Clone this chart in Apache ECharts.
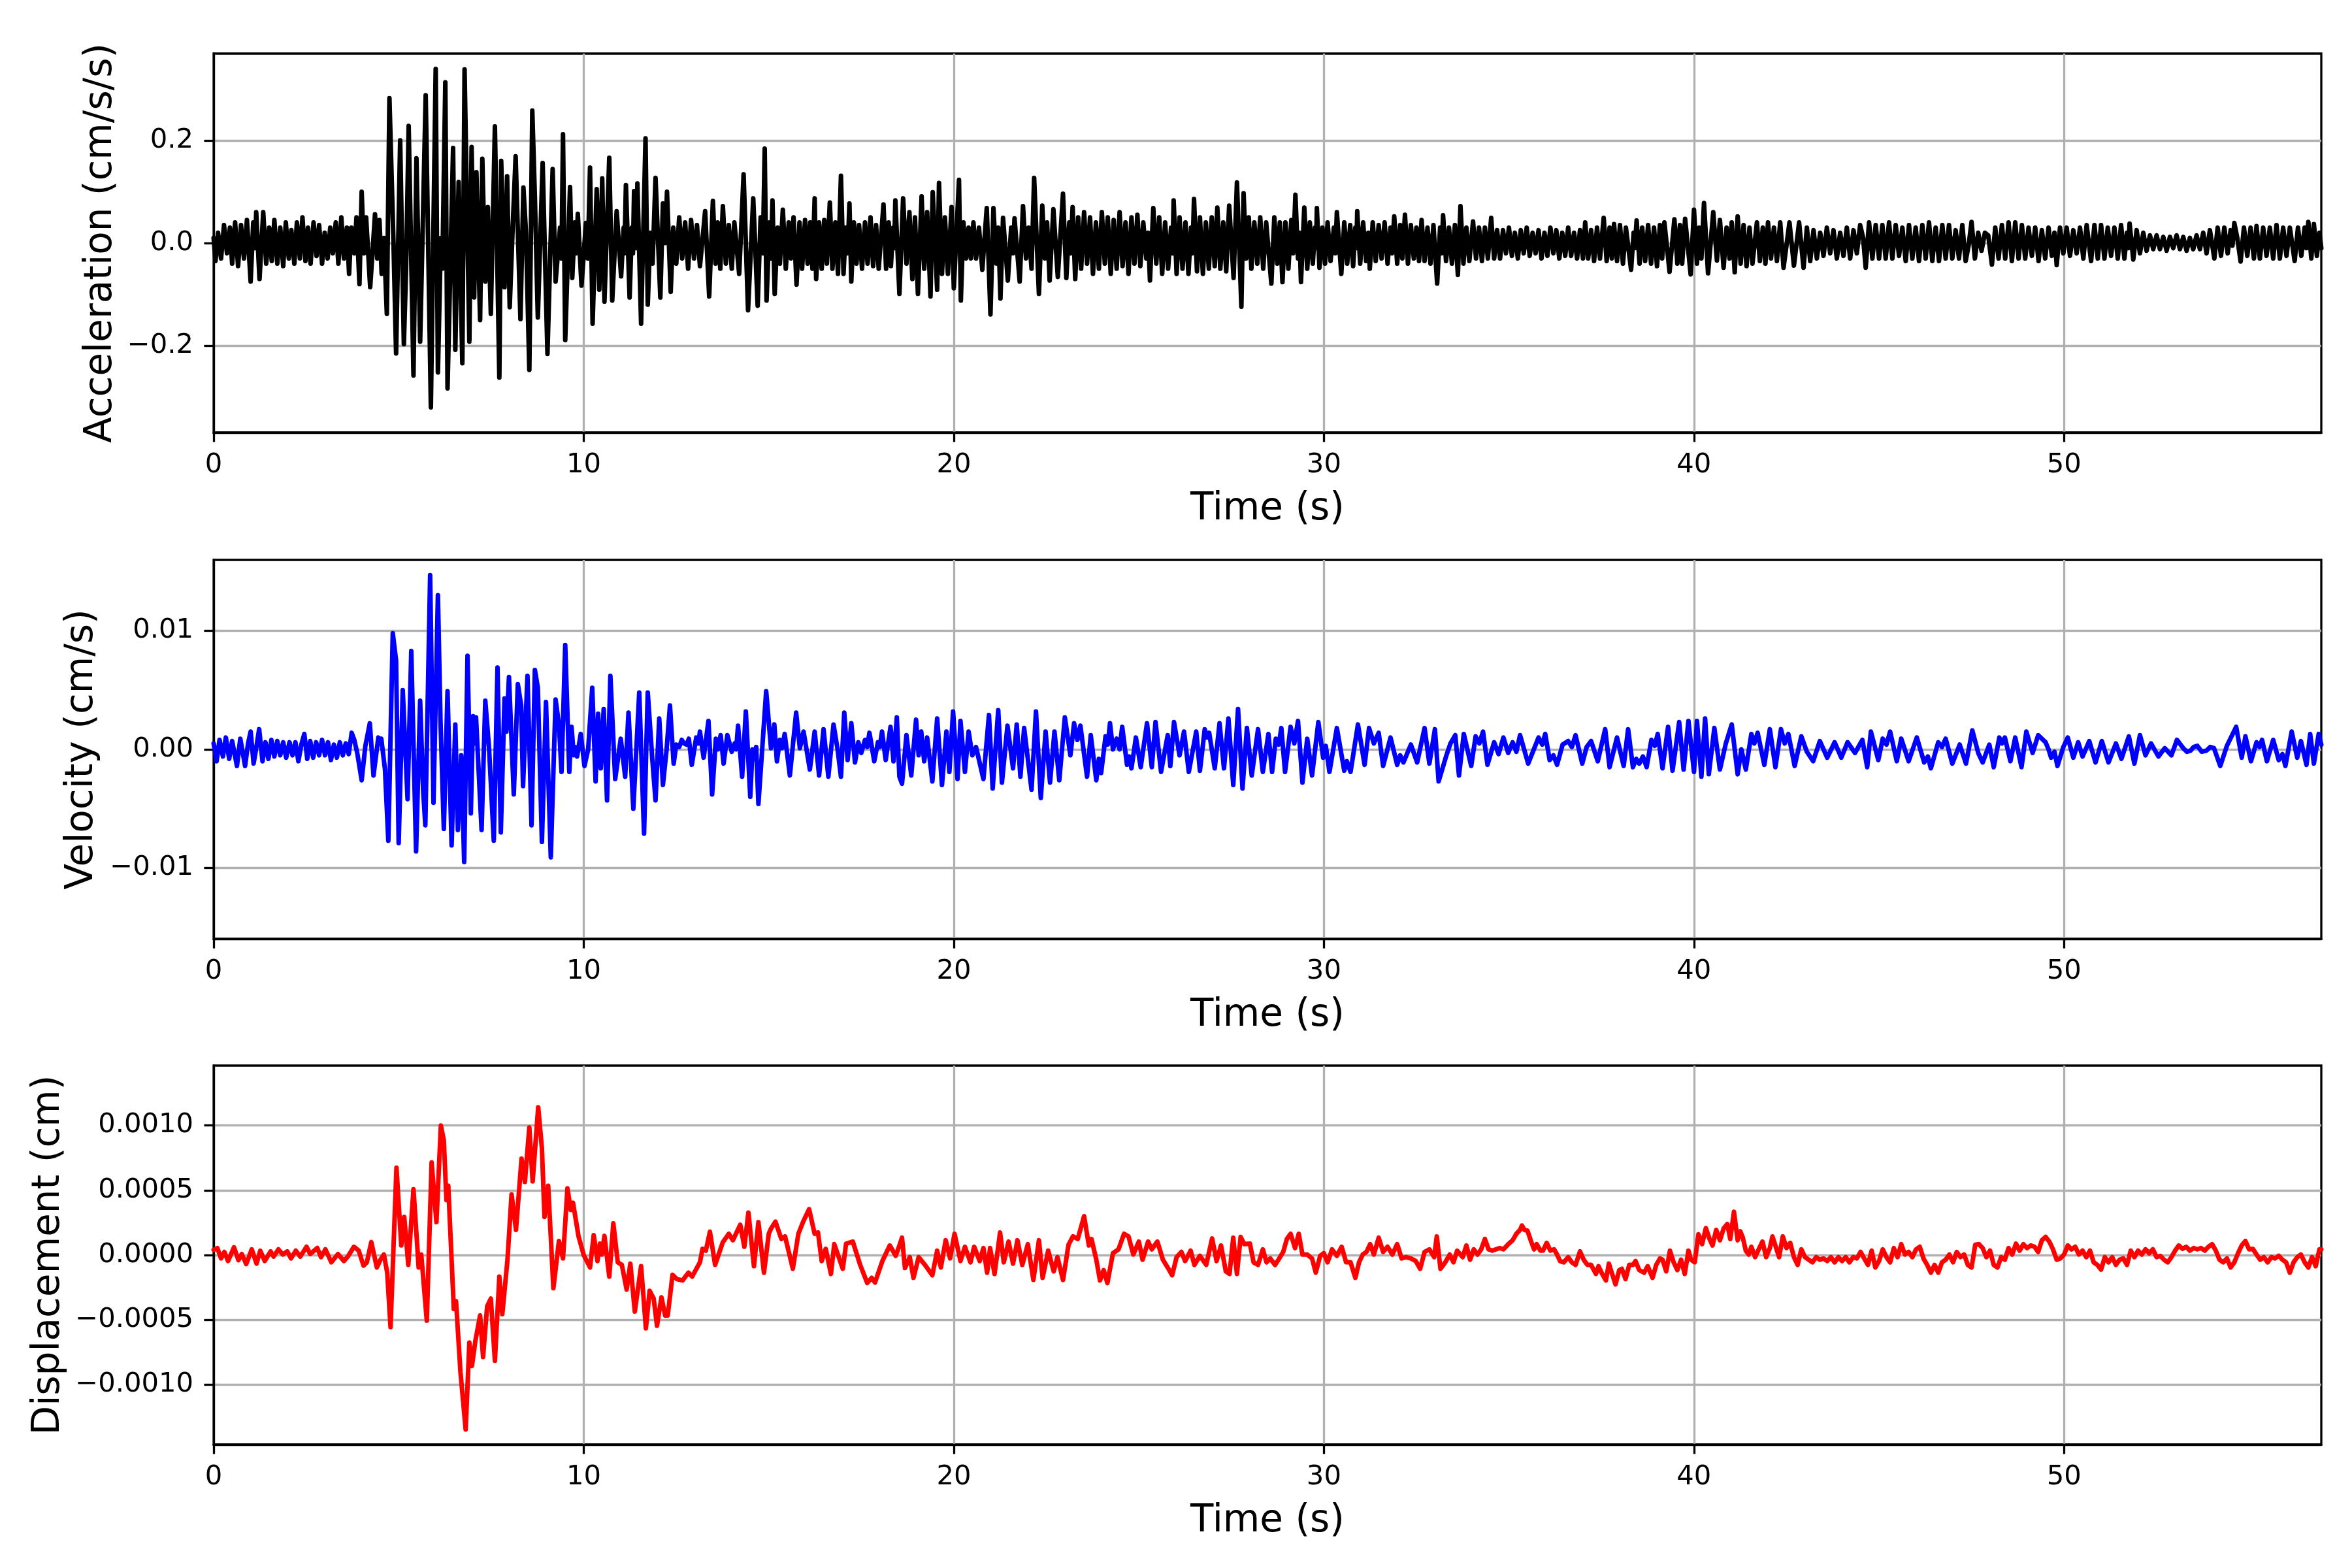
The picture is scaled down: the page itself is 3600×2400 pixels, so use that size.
<!DOCTYPE html>
<html><head><meta charset="utf-8">
<script src="https://cdn.jsdelivr.net/npm/echarts@6/dist/echarts.min.js"></script>
<style>html,body{margin:0;padding:0;background:#fff}#c{width:3600px;height:2400px}</style>
</head><body><div id="c"></div>
<script>
// ---- tick values ----
const timeTicks = [0, 10, 20, 30, 40, 50];
const accTicks = [-0.2, 0, 0.2];
const velTicks = [-0.01, 0, 0.01];
const dispTicks = [-0.001, -0.0005, 0, 0.0005, 0.001];

// ---- acceleration (cm/s/s): [time s, value] ----
const accData = [
[0.00,0.010],[0.05,-0.035],[0.12,0.020],[0.20,-0.030],[0.28,0.035],[0.36,-0.020],[0.44,0.030],[0.50,-0.040],[0.58,0.040],[0.66,-0.045],[0.74,0.035],[0.82,-0.030],[0.90,0.045],[1.00,-0.075],[1.07,0.040],[1.12,-0.010],[1.15,0.060],[1.24,-0.070],[1.34,0.060],[1.42,-0.040],[1.50,0.030],[1.57,-0.035],[1.64,0.045],[1.72,-0.040],[1.80,0.030],[1.88,-0.045],[1.95,0.040],[2.03,-0.030],[2.10,0.025],[2.18,-0.040],[2.25,0.040],[2.33,-0.030],[2.40,0.050],[2.48,-0.035],[2.55,0.030],[2.62,-0.040],[2.70,0.040],[2.78,-0.025],[2.85,0.035],[2.93,-0.040],[3.00,0.020],[3.08,-0.030],[3.15,0.030],[3.22,-0.020],[3.30,0.040],[3.37,-0.040],[3.45,0.050],[3.52,-0.030],[3.60,0.030],[3.66,-0.060],[3.72,0.030],[3.80,-0.020],[3.86,0.050],[3.94,-0.080],[4.00,0.100],[4.06,-0.020],[4.12,0.050],[4.23,-0.086],[4.30,-0.010],[4.36,0.056],[4.42,-0.030],[4.48,0.045],[4.54,-0.060],[4.60,0.010],[4.68,-0.138],[4.75,0.282],[4.86,0.000],[4.93,-0.215],[5.04,0.200],[5.14,-0.197],[5.20,-0.050],[5.27,0.228],[5.40,-0.258],[5.48,0.165],[5.58,-0.192],[5.73,0.288],[5.87,-0.320],[6.00,0.339],[6.06,-0.252],[6.14,0.010],[6.18,-0.050],[6.26,0.313],[6.32,-0.283],[6.47,0.185],[6.53,-0.208],[6.62,0.119],[6.72,-0.234],[6.78,0.338],[6.91,-0.192],[6.97,0.187],[7.04,-0.106],[7.10,0.138],[7.20,-0.150],[7.26,0.164],[7.34,-0.075],[7.41,0.070],[7.49,-0.138],[7.60,0.227],[7.72,-0.262],[7.77,0.160],[7.86,-0.086],[7.93,0.130],[8.00,-0.125],[8.08,0.030],[8.16,0.169],[8.29,-0.148],[8.37,0.108],[8.44,0.020],[8.53,-0.247],[8.61,0.258],[8.68,0.090],[8.76,-0.145],[8.89,0.156],[9.02,-0.216],[9.16,0.144],[9.24,-0.075],[9.36,0.030],[9.40,-0.030],[9.44,0.212],[9.50,-0.189],[9.63,0.109],[9.69,-0.068],[9.76,0.040],[9.80,-0.020],[9.84,0.057],[9.94,-0.083],[10.06,0.039],[10.11,-0.030],[10.17,0.147],[10.24,-0.157],[10.35,0.105],[10.42,-0.091],[10.50,0.126],[10.56,-0.114],[10.69,0.166],[10.77,-0.112],[10.89,0.062],[11.01,-0.065],[11.08,0.030],[11.10,-0.020],[11.14,0.113],[11.24,-0.106],[11.30,0.030],[11.33,-0.020],[11.36,0.101],[11.41,-0.010],[11.45,0.116],[11.55,-0.157],[11.67,0.204],[11.73,-0.120],[11.80,0.020],[11.86,-0.040],[11.94,0.127],[12.07,-0.106],[12.14,0.077],[12.20,0.000],[12.25,0.100],[12.35,-0.095],[12.42,0.030],[12.50,-0.040],[12.58,0.050],[12.66,-0.030],[12.74,0.040],[12.82,-0.050],[12.90,0.045],[12.98,-0.030],[13.06,0.035],[13.14,-0.045],[13.20,0.000],[13.28,0.062],[13.39,-0.104],[13.49,0.082],[13.56,-0.040],[13.62,0.040],[13.69,-0.050],[13.76,0.072],[13.84,-0.040],[13.92,0.035],[14.00,-0.050],[14.07,0.040],[14.20,-0.060],[14.32,0.134],[14.44,-0.131],[14.58,0.087],[14.70,-0.122],[14.78,0.050],[14.84,-0.020],[14.89,0.184],[14.94,-0.112],[15.02,0.040],[15.06,-0.030],[15.10,0.083],[15.16,-0.099],[15.24,0.030],[15.30,-0.040],[15.38,0.065],[15.46,-0.050],[15.54,0.040],[15.60,-0.030],[15.67,0.050],[15.75,-0.081],[15.83,0.040],[15.90,-0.050],[15.98,0.045],[16.05,-0.040],[16.12,0.040],[16.18,-0.050],[16.24,0.087],[16.28,-0.070],[16.36,0.040],[16.43,-0.050],[16.50,0.045],[16.57,-0.040],[16.65,0.079],[16.72,-0.050],[16.80,0.040],[16.87,-0.060],[16.95,0.131],[17.02,-0.060],[17.08,0.030],[17.13,-0.020],[17.18,0.077],[17.23,-0.075],[17.30,0.040],[17.37,-0.040],[17.44,0.035],[17.52,-0.050],[17.60,0.040],[17.67,-0.040],[17.75,0.050],[17.82,-0.045],[17.90,0.035],[17.97,-0.050],[18.10,0.075],[18.17,-0.050],[18.24,0.040],[18.30,-0.045],[18.36,0.030],[18.39,-0.010],[18.42,0.083],[18.53,-0.099],[18.63,0.087],[18.72,-0.040],[18.80,0.060],[18.88,-0.070],[18.95,0.050],[19.03,-0.099],[19.13,0.091],[19.20,-0.050],[19.28,0.060],[19.37,-0.104],[19.43,0.099],[19.55,-0.091],[19.60,0.117],[19.68,-0.060],[19.76,0.050],[19.84,-0.060],[19.94,0.070],[20.00,-0.088],[20.14,0.123],[20.19,-0.112],[20.26,0.040],[20.33,-0.030],[20.40,0.030],[20.46,-0.030],[20.53,0.040],[20.60,-0.030],[20.68,0.030],[20.77,-0.052],[20.89,0.068],[20.99,-0.139],[21.07,0.068],[21.15,-0.040],[21.20,0.030],[21.26,-0.108],[21.33,0.049],[21.46,-0.073],[21.55,0.030],[21.60,-0.020],[21.64,0.048],[21.78,-0.075],[21.87,0.072],[21.95,-0.030],[22.02,0.030],[22.10,-0.050],[22.17,0.127],[22.30,-0.099],[22.39,0.073],[22.46,-0.030],[22.52,0.040],[22.59,-0.073],[22.69,0.066],[22.81,-0.066],[22.95,0.096],[23.04,-0.068],[23.12,0.040],[23.16,-0.020],[23.21,0.070],[23.28,-0.070],[23.36,0.050],[23.44,-0.050],[23.52,0.060],[23.60,-0.040],[23.68,0.050],[23.76,-0.060],[23.84,0.040],[23.92,-0.050],[24.00,0.060],[24.08,-0.040],[24.16,0.050],[24.24,-0.060],[24.32,0.045],[24.40,-0.050],[24.48,0.060],[24.56,-0.045],[24.64,0.040],[24.72,-0.060],[24.80,0.050],[24.88,-0.040],[24.96,0.055],[25.04,-0.045],[25.12,0.040],[25.20,-0.030],[25.25,0.020],[25.30,-0.073],[25.39,0.068],[25.47,-0.040],[25.55,0.050],[25.63,-0.060],[25.71,0.040],[25.79,-0.050],[25.87,0.030],[25.91,-0.020],[25.94,0.083],[26.02,-0.060],[26.10,0.050],[26.18,-0.050],[26.26,0.040],[26.34,-0.060],[26.41,0.030],[26.45,-0.020],[26.49,0.086],[26.57,-0.055],[26.65,0.050],[26.73,-0.060],[26.81,0.040],[26.89,-0.050],[26.97,0.050],[27.05,-0.045],[27.12,0.069],[27.20,-0.050],[27.28,0.040],[27.36,-0.055],[27.44,0.073],[27.56,-0.068],[27.65,0.118],[27.77,-0.124],[27.83,0.097],[27.90,-0.030],[27.97,0.050],[28.04,-0.050],[28.12,0.040],[28.20,-0.040],[28.28,0.050],[28.36,-0.050],[28.44,0.040],[28.58,-0.079],[28.66,0.050],[28.74,-0.040],[28.81,0.040],[28.88,-0.076],[28.96,0.040],[29.04,-0.050],[29.12,0.045],[29.17,-0.020],[29.23,0.094],[29.30,-0.030],[29.34,0.020],[29.38,-0.076],[29.47,0.069],[29.55,-0.050],[29.62,0.040],[29.70,-0.040],[29.76,0.030],[29.79,-0.010],[29.81,0.068],[29.88,-0.048],[29.96,0.030],[30.03,-0.040],[30.10,0.040],[30.18,-0.035],[30.27,0.030],[30.31,-0.020],[30.35,0.060],[30.47,-0.060],[30.55,0.040],[30.63,-0.040],[30.71,0.035],[30.79,-0.045],[30.85,0.030],[30.88,-0.010],[30.90,0.062],[30.98,-0.040],[31.06,0.040],[31.14,-0.035],[31.20,0.020],[31.24,-0.050],[31.32,0.040],[31.40,-0.035],[31.48,0.035],[31.56,-0.030],[31.64,0.040],[31.72,-0.040],[31.80,0.030],[31.84,-0.020],[31.90,0.052],[31.98,-0.040],[32.06,0.035],[32.12,-0.030],[32.19,0.055],[32.27,-0.040],[32.35,0.035],[32.43,-0.030],[32.50,0.030],[32.57,-0.035],[32.64,0.045],[32.72,-0.035],[32.80,0.030],[32.88,-0.040],[32.96,0.035],[33.06,-0.079],[33.14,0.030],[33.18,-0.020],[33.22,0.054],[33.30,-0.035],[33.38,0.030],[33.46,-0.040],[33.54,0.035],[33.62,-0.062],[33.69,0.072],[33.77,-0.040],[33.85,0.030],[33.93,-0.035],[34.03,0.042],[34.11,-0.030],[34.19,0.030],[34.27,-0.035],[34.35,0.030],[34.43,-0.030],[34.52,0.049],[34.60,-0.030],[34.68,0.025],[34.76,-0.030],[34.84,0.025],[34.92,-0.020],[35.00,0.030],[35.08,-0.025],[35.16,0.020],[35.24,-0.030],[35.32,0.025],[35.40,-0.020],[35.48,0.030],[35.56,-0.025],[35.64,0.020],[35.72,-0.020],[35.80,0.025],[35.88,-0.030],[35.96,0.020],[36.04,-0.025],[36.12,0.030],[36.20,-0.020],[36.28,0.025],[36.36,-0.030],[36.44,0.020],[36.52,-0.025],[36.60,0.030],[36.68,-0.025],[36.76,0.020],[36.84,-0.030],[36.92,0.025],[37.00,-0.030],[37.06,0.040],[37.14,-0.030],[37.22,0.025],[37.30,-0.035],[37.38,0.030],[37.46,-0.030],[37.56,0.049],[37.64,-0.035],[37.72,0.030],[37.78,-0.030],[37.84,0.037],[37.92,-0.035],[38.00,0.035],[38.08,-0.040],[38.16,0.030],[38.30,-0.052],[38.37,0.020],[38.40,-0.010],[38.45,0.044],[38.53,-0.040],[38.60,0.030],[38.68,-0.035],[38.76,0.035],[38.84,-0.040],[38.92,0.030],[39.00,-0.045],[39.08,0.035],[39.14,-0.030],[39.20,0.040],[39.34,-0.056],[39.47,0.046],[39.55,-0.040],[39.62,0.035],[39.68,-0.040],[39.76,0.047],[39.91,-0.061],[40.00,0.065],[40.08,-0.040],[40.14,0.030],[40.20,-0.030],[40.27,0.078],[40.38,-0.059],[40.52,0.060],[40.62,-0.034],[40.70,0.045],[40.80,-0.048],[40.88,0.030],[40.96,-0.030],[41.02,0.040],[41.10,-0.057],[41.18,0.052],[41.26,-0.040],[41.34,0.035],[41.42,-0.045],[41.50,0.030],[41.58,-0.040],[41.70,0.040],[41.78,-0.035],[41.86,0.030],[41.93,-0.040],[42.00,0.040],[42.08,-0.030],[42.16,0.030],[42.24,-0.035],[42.33,0.040],[42.42,-0.048],[42.58,0.040],[42.70,-0.044],[42.84,0.040],[42.96,-0.048],[43.05,0.030],[43.14,-0.035],[43.23,0.025],[43.32,-0.030],[43.41,0.020],[43.50,-0.025],[43.59,0.030],[43.68,-0.020],[43.77,0.025],[43.86,-0.030],[43.95,0.020],[44.04,-0.025],[44.13,0.030],[44.22,-0.030],[44.31,0.025],[44.40,-0.020],[44.49,0.035],[44.57,0.010],[44.64,-0.048],[44.73,0.040],[44.82,-0.030],[44.91,0.035],[45.00,-0.030],[45.09,0.035],[45.18,-0.030],[45.27,0.040],[45.36,-0.030],[45.45,0.035],[45.54,-0.025],[45.63,0.030],[45.72,-0.035],[45.81,0.035],[45.90,-0.030],[45.99,0.030],[46.08,-0.035],[46.17,0.035],[46.26,-0.030],[46.35,0.040],[46.44,-0.035],[46.53,0.030],[46.62,-0.035],[46.71,0.035],[46.80,-0.030],[46.89,0.035],[46.98,-0.030],[47.07,0.025],[47.16,-0.030],[47.25,0.035],[47.34,-0.035],[47.42,-0.005],[47.50,0.041],[47.59,-0.030],[47.68,0.020],[47.77,-0.015],[47.86,0.020],[47.95,0.015],[48.05,-0.042],[48.14,0.030],[48.23,-0.030],[48.32,0.035],[48.41,-0.030],[48.50,0.040],[48.59,-0.035],[48.68,0.040],[48.77,-0.030],[48.86,0.035],[48.95,-0.030],[49.04,0.030],[49.13,-0.025],[49.22,0.030],[49.31,-0.035],[49.40,0.025],[49.49,-0.030],[49.58,0.030],[49.67,-0.025],[49.74,0.020],[49.80,-0.043],[49.89,0.030],[49.98,-0.020],[50.07,0.030],[50.16,-0.025],[50.25,0.025],[50.34,-0.020],[50.43,0.030],[50.52,-0.030],[50.61,0.035],[50.73,-0.035],[50.82,0.035],[50.91,-0.030],[51.00,0.035],[51.09,-0.030],[51.18,0.030],[51.27,-0.025],[51.36,0.030],[51.45,-0.030],[51.54,0.035],[51.63,-0.030],[51.70,0.020],[51.74,-0.010],[51.77,0.038],[51.87,-0.032],[51.96,0.025],[52.05,-0.020],[52.14,0.020],[52.23,-0.015],[52.32,0.015],[52.41,-0.012],[52.50,0.015],[52.59,-0.012],[52.68,0.012],[52.77,-0.015],[52.86,0.012],[52.95,-0.010],[53.04,0.015],[53.13,-0.012],[53.22,0.012],[53.31,-0.015],[53.40,0.010],[53.49,-0.012],[53.58,0.015],[53.67,-0.012],[53.76,0.020],[53.85,-0.020],[53.94,0.025],[54.06,-0.030],[54.15,0.030],[54.24,-0.025],[54.33,0.030],[54.42,-0.020],[54.50,0.025],[54.55,-0.005],[54.60,0.039],[54.68,0.010],[54.77,-0.036],[54.86,0.030],[54.95,-0.025],[55.04,0.030],[55.13,-0.030],[55.20,0.033],[55.29,-0.030],[55.38,0.030],[55.47,-0.025],[55.56,0.030],[55.65,-0.030],[55.74,0.035],[55.83,-0.030],[55.92,0.030],[56.01,-0.025],[56.10,0.030],[56.23,-0.035],[56.32,0.030],[56.41,-0.025],[56.50,0.030],[56.55,-0.010],[56.60,0.041],[56.68,-0.030],[56.75,0.037],[56.83,-0.025],[56.90,0.020],[56.95,-0.010]
];

// ---- velocity (cm/s): [time s, value] ----
const velData = [
[0.00,0.0005],[0.08,-0.0010],[0.16,0.0008],[0.25,-0.0006],[0.33,0.0010],[0.42,-0.0008],[0.50,0.0007],[0.63,-0.0014],[0.72,0.0009],[0.85,-0.0014],[0.93,0.0005],[1.00,0.0015],[1.08,-0.0012],[1.16,0.0003],[1.23,0.0017],[1.32,-0.0010],[1.40,0.0006],[1.48,-0.0008],[1.56,0.0008],[1.64,-0.0006],[1.72,0.0007],[1.80,-0.0005],[1.88,0.0006],[1.96,-0.0007],[2.05,0.0006],[2.13,-0.0005],[2.21,0.0006],[2.29,-0.0010],[2.37,0.0004],[2.45,0.0013],[2.53,-0.0008],[2.61,0.0007],[2.69,-0.0007],[2.77,0.0006],[2.85,-0.0005],[2.93,0.0008],[3.01,-0.0005],[3.09,0.0006],[3.17,-0.0009],[3.25,0.0004],[3.33,-0.0007],[3.41,0.0006],[3.49,-0.0005],[3.57,0.0005],[3.65,-0.0004],[3.73,0.0014],[3.80,0.0008],[3.88,-0.0003],[4.00,-0.0026],[4.10,0.0003],[4.22,0.0022],[4.32,-0.0022],[4.45,0.0010],[4.50,0.0005],[4.53,0.0009],[4.63,-0.0017],[4.72,-0.0077],[4.84,0.0098],[4.93,0.0075],[5.00,-0.0079],[5.11,0.0050],[5.24,-0.0042],[5.34,0.0083],[5.47,-0.0086],[5.58,0.0041],[5.66,-0.0034],[5.72,-0.0064],[5.85,0.0147],[5.94,-0.0045],[6.06,0.0130],[6.13,0.0024],[6.22,-0.0067],[6.32,0.0049],[6.43,-0.0081],[6.53,0.0021],[6.60,-0.0068],[6.69,-0.0005],[6.77,-0.0095],[6.86,0.0079],[6.95,-0.0054],[7.01,0.0028],[7.05,0.0005],[7.09,0.0027],[7.24,-0.0068],[7.34,0.0041],[7.44,0.0002],[7.57,-0.0077],[7.67,0.0069],[7.76,-0.0070],[7.86,0.0043],[7.91,0.0015],[7.98,0.0061],[8.11,-0.0038],[8.22,0.0055],[8.31,0.0037],[8.36,-0.0031],[8.48,0.0062],[8.59,-0.0064],[8.68,0.0067],[8.76,0.0052],[8.87,-0.0078],[8.98,0.0040],[9.11,-0.0091],[9.24,0.0042],[9.33,0.0021],[9.40,-0.0019],[9.50,0.0088],[9.61,-0.0019],[9.67,0.0019],[9.73,-0.0005],[9.77,0.0002],[9.82,-0.0006],[9.92,0.0013],[10.02,-0.0014],[10.12,0.0000],[10.23,0.0052],[10.32,-0.0027],[10.39,0.0030],[10.46,-0.0016],[10.54,0.0034],[10.63,-0.0043],[10.72,0.0062],[10.85,-0.0025],[11.00,0.0009],[11.12,-0.0023],[11.21,0.0031],[11.34,-0.0050],[11.50,0.0048],[11.63,-0.0071],[11.73,0.0048],[11.85,-0.0007],[11.94,-0.0043],[12.04,0.0026],[12.14,-0.0030],[12.24,0.0000],[12.33,0.0037],[12.43,-0.0012],[12.50,0.0004],[12.58,0.0002],[12.65,0.0008],[12.71,0.0005],[12.78,0.0004],[12.84,0.0009],[12.92,-0.0013],[13.04,0.0010],[13.10,0.0005],[13.14,0.0015],[13.24,-0.0007],[13.37,0.0024],[13.47,-0.0038],[13.57,0.0009],[13.63,0.0000],[13.70,0.0012],[13.78,-0.0012],[13.88,0.0012],[14.00,-0.0002],[14.08,0.0005],[14.12,0.0000],[14.17,0.0020],[14.28,-0.0023],[14.38,0.0032],[14.50,-0.0040],[14.56,0.0000],[14.61,-0.0008],[14.66,0.0002],[14.72,-0.0046],[14.93,0.0049],[15.06,0.0001],[15.10,0.0008],[15.15,0.0021],[15.22,-0.0010],[15.30,0.0008],[15.36,0.0001],[15.43,0.0013],[15.57,-0.0022],[15.74,0.0031],[15.84,0.0001],[15.94,0.0015],[16.11,-0.0017],[16.24,0.0015],[16.36,-0.0022],[16.48,0.0017],[16.61,-0.0023],[16.75,0.0021],[16.86,0.0000],[16.95,-0.0023],[17.04,0.0031],[17.13,-0.0009],[17.23,0.0022],[17.33,-0.0011],[17.42,0.0006],[17.50,-0.0003],[17.60,0.0008],[17.66,0.0002],[17.72,0.0014],[17.85,-0.0010],[17.95,0.0006],[18.00,0.0002],[18.06,0.0015],[18.16,-0.0009],[18.29,0.0019],[18.37,-0.0010],[18.46,0.0027],[18.53,-0.0023],[18.60,-0.0029],[18.72,0.0012],[18.85,-0.0022],[18.98,0.0025],[19.05,-0.0005],[19.12,0.0015],[19.20,-0.0010],[19.28,0.0010],[19.42,-0.0027],[19.55,0.0026],[19.68,-0.0030],[19.80,0.0015],[19.88,-0.0019],[19.98,0.0032],[20.10,-0.0025],[20.18,0.0024],[20.30,-0.0019],[20.40,0.0015],[20.50,-0.0005],[20.60,0.0002],[20.80,-0.0025],[20.95,0.0029],[21.05,-0.0033],[21.20,0.0033],[21.30,-0.0028],[21.45,0.0020],[21.60,-0.0016],[21.70,0.0021],[21.80,-0.0023],[21.90,0.0018],[22.10,-0.0034],[22.22,0.0032],[22.35,-0.0041],[22.48,0.0015],[22.60,-0.0028],[22.72,0.0015],[22.85,-0.0026],[23.00,0.0027],[23.15,-0.0005],[23.25,0.0022],[23.34,0.0008],[23.42,0.0020],[23.60,-0.0023],[23.70,0.0012],[23.85,-0.0026],[23.92,-0.0008],[23.98,-0.0020],[24.10,0.0011],[24.16,0.0004],[24.22,0.0022],[24.30,0.0000],[24.40,0.0009],[24.48,0.0000],[24.55,0.0019],[24.68,-0.0013],[24.74,-0.0006],[24.80,-0.0016],[24.92,0.0010],[25.05,-0.0015],[25.22,0.0022],[25.35,-0.0015],[25.45,0.0023],[25.60,-0.0019],[25.78,0.0012],[25.85,-0.0014],[25.95,0.0023],[26.10,-0.0005],[26.22,0.0015],[26.35,-0.0019],[26.55,0.0015],[26.65,-0.0018],[26.78,0.0017],[26.84,0.0010],[26.90,0.0014],[27.05,-0.0016],[27.18,0.0022],[27.30,-0.0016],[27.42,0.0026],[27.55,-0.0030],[27.68,0.0034],[27.80,-0.0033],[27.92,0.0018],[28.05,-0.0022],[28.22,0.0017],[28.35,-0.0019],[28.50,0.0013],[28.60,-0.0019],[28.70,0.0009],[28.78,0.0004],[28.85,0.0018],[28.95,-0.0019],[29.10,0.0019],[29.20,0.0005],[29.30,0.0024],[29.42,-0.0028],[29.55,0.0009],[29.68,-0.0022],[29.85,0.0023],[29.98,-0.0007],[30.05,0.0003],[30.15,-0.0019],[30.35,0.0018],[30.55,-0.0018],[30.62,-0.0010],[30.72,-0.0019],[30.92,0.0021],[31.10,-0.0013],[31.22,0.0018],[31.35,0.0005],[31.48,0.0014],[31.60,-0.0014],[31.80,0.0010],[31.98,-0.0013],[32.06,-0.0005],[32.15,-0.0011],[32.35,0.0004],[32.52,-0.0011],[32.72,0.0018],[32.85,-0.0012],[33.00,0.0017],[33.10,-0.0027],[33.30,-0.0006],[33.42,0.0005],[33.55,0.0012],[33.65,-0.0022],[33.78,0.0013],[33.98,-0.0014],[34.10,0.0011],[34.20,0.0005],[34.30,0.0015],[34.42,-0.0013],[34.60,0.0006],[34.72,-0.0004],[34.85,0.0010],[34.98,-0.0003],[35.10,0.0006],[35.20,-0.0002],[35.30,0.0012],[35.52,-0.0012],[35.80,0.0010],[35.90,0.0004],[35.98,0.0013],[36.10,-0.0009],[36.20,-0.0005],[36.30,-0.0013],[36.45,0.0004],[36.60,0.0007],[36.70,0.0002],[36.80,0.0012],[36.98,-0.0012],[37.10,0.0002],[37.22,0.0007],[37.40,-0.0010],[37.60,0.0017],[37.72,-0.0015],[37.92,0.0010],[38.10,-0.0014],[38.22,0.0017],[38.35,-0.0015],[38.44,-0.0008],[38.52,-0.0012],[38.62,-0.0006],[38.72,-0.0015],[38.85,0.0008],[38.94,0.0003],[39.02,0.0013],[39.15,-0.0016],[39.30,0.0019],[39.42,-0.0018],[39.60,0.0023],[39.72,-0.0017],[39.85,0.0024],[40.00,-0.0019],[40.08,0.0024],[40.20,-0.0023],[40.30,0.0026],[40.40,-0.0021],[40.55,0.0018],[40.70,-0.0017],[40.86,0.0005],[41.02,0.0021],[41.18,-0.0021],[41.28,0.0000],[41.40,-0.0017],[41.55,0.0013],[41.63,0.0005],[41.72,0.0014],[41.90,-0.0013],[42.05,0.0017],[42.20,-0.0015],[42.35,0.0017],[42.45,0.0005],[42.55,0.0013],[42.72,-0.0014],[42.90,0.0011],[43.05,-0.0002],[43.22,-0.0010],[43.40,0.0007],[43.60,-0.0007],[43.80,0.0006],[43.98,-0.0007],[44.15,0.0006],[44.35,-0.0003],[44.55,0.0008],[44.68,-0.0015],[44.78,0.0015],[44.98,-0.0009],[45.10,0.0009],[45.20,0.0004],[45.30,0.0015],[45.48,-0.0010],[45.60,0.0009],[45.80,-0.0010],[46.02,0.0010],[46.22,-0.0011],[46.32,-0.0006],[46.40,-0.0016],[46.60,0.0006],[46.70,0.0002],[46.80,0.0009],[46.98,-0.0012],[47.18,0.0004],[47.35,-0.0012],[47.52,0.0016],[47.68,-0.0003],[47.80,-0.0011],[47.98,0.0004],[48.10,-0.0015],[48.25,0.0010],[48.32,0.0005],[48.40,0.0010],[48.55,-0.0010],[48.68,0.0010],[48.85,-0.0015],[48.98,0.0015],[49.15,-0.0003],[49.30,0.0012],[49.50,0.0006],[49.58,0.0000],[49.65,-0.0007],[49.74,-0.0002],[49.82,-0.0014],[49.98,0.0002],[50.10,0.0010],[50.25,-0.0007],[50.38,0.0006],[50.50,-0.0006],[50.68,0.0007],[50.85,-0.0011],[51.02,0.0007],[51.20,-0.0011],[51.40,0.0005],[51.55,-0.0008],[51.75,0.0011],[51.90,-0.0012],[52.05,0.0012],[52.20,-0.0005],[52.35,0.0005],[52.55,-0.0006],[52.72,0.0001],[52.90,-0.0005],[53.05,0.0008],[53.22,0.0001],[53.32,-0.0002],[53.42,-0.0001],[53.50,0.0002],[53.60,0.0003],[53.72,-0.0002],[53.85,-0.0001],[53.95,0.0002],[54.05,0.0001],[54.22,-0.0014],[54.40,0.0003],[54.65,0.0019],[54.80,-0.0007],[54.90,0.0011],[55.05,-0.0010],[55.20,0.0006],[55.28,0.0002],[55.35,0.0008],[55.48,-0.0010],[55.65,0.0008],[55.80,-0.0009],[55.90,-0.0004],[55.98,-0.0014],[56.15,0.0015],[56.30,-0.0007],[56.40,0.0007],[56.55,-0.0013],[56.65,0.0013],[56.75,-0.0012],[56.88,0.0013],[56.95,0.0004]
];

// ---- displacement (cm): [time s, value] ----
const dispData = [
[0.00,0.000040],[0.10,0.000054],[0.20,-0.000026],[0.29,0.000024],[0.39,-0.000046],[0.55,0.000060],[0.67,-0.000040],[0.76,0.000008],[0.88,-0.000070],[1.03,0.000044],[1.16,-0.000066],[1.26,0.000034],[1.38,-0.000046],[1.54,0.000028],[1.62,-0.000012],[1.75,0.000044],[1.87,0.000004],[1.99,0.000028],[2.09,-0.000026],[2.22,0.000034],[2.34,-0.000012],[2.51,0.000064],[2.61,0.000008],[2.80,0.000054],[2.90,-0.000016],[3.02,0.000044],[3.18,-0.000056],[3.36,0.000008],[3.52,-0.000046],[3.64,-0.000006],[3.79,0.000064],[3.92,0.000034],[4.05,-0.000082],[4.14,-0.000056],[4.26,0.000100],[4.41,-0.000096],[4.50,-0.000040],[4.60,0.000004],[4.69,-0.000136],[4.78,-0.000556],[4.94,0.000674],[5.07,0.000074],[5.15,0.000294],[5.26,-0.000076],[5.40,0.000508],[5.54,-0.000096],[5.61,0.000004],[5.76,-0.000506],[5.89,0.000714],[6.02,0.000254],[6.14,0.001000],[6.22,0.000884],[6.29,0.000424],[6.34,0.000534],[6.49,-0.000416],[6.55,-0.000356],[6.67,-0.000906],[6.81,-0.001346],[6.91,-0.000676],[6.98,-0.000856],[7.07,-0.000666],[7.20,-0.000466],[7.28,-0.000786],[7.39,-0.000396],[7.49,-0.000336],[7.60,-0.000816],[7.72,-0.000166],[7.80,-0.000456],[7.94,-0.000036],[8.05,0.000468],[8.17,0.000194],[8.32,0.000744],[8.41,0.000564],[8.53,0.000984],[8.62,0.000568],[8.77,0.001140],[8.87,0.000824],[8.94,0.000294],[9.04,0.000534],[9.18,-0.000256],[9.33,0.000108],[9.44,-0.000026],[9.56,0.000514],[9.65,0.000348],[9.71,0.000404],[9.86,0.000144],[10.00,0.000000],[10.17,-0.000096],[10.27,0.000154],[10.37,-0.000046],[10.44,0.000088],[10.49,0.000004],[10.56,0.000148],[10.69,-0.000166],[10.80,0.000244],[10.92,-0.000056],[11.03,-0.000076],[11.16,-0.000266],[11.26,-0.000066],[11.38,-0.000436],[11.55,-0.000086],[11.68,-0.000566],[11.78,-0.000276],[11.89,-0.000336],[11.98,-0.000546],[12.10,-0.000326],[12.20,-0.000466],[12.27,-0.000466],[12.40,-0.000152],[12.52,-0.000186],[12.67,-0.000196],[12.83,-0.000136],[12.93,-0.000166],[13.14,-0.000056],[13.21,0.000048],[13.30,0.000034],[13.41,0.000180],[13.55,-0.000076],[13.76,0.000100],[13.92,0.000164],[14.03,0.000114],[14.23,0.000234],[14.34,0.000064],[14.45,0.000328],[14.60,-0.000086],[14.72,0.000254],[14.87,-0.000136],[15.00,0.000164],[15.06,0.000204],[15.18,0.000258],[15.34,0.000124],[15.44,0.000144],[15.65,-0.000106],[15.80,0.000164],[15.93,0.000258],[16.09,0.000354],[16.24,0.000164],[16.33,0.000174],[16.43,-0.000046],[16.54,0.000048],[16.68,-0.000146],[16.77,0.000084],[17.00,-0.000106],[17.09,0.000088],[17.27,0.000104],[17.47,-0.000076],[17.66,-0.000216],[17.78,-0.000176],[17.87,-0.000212],[18.07,-0.000046],[18.27,0.000074],[18.43,-0.000006],[18.53,0.000074],[18.60,0.000134],[18.68,-0.000100],[18.81,-0.000016],[18.91,-0.000176],[19.05,-0.000016],[19.22,-0.000076],[19.42,-0.000156],[19.55,0.000034],[19.65,-0.000096],[19.78,0.000114],[19.90,-0.000026],[20.02,0.000164],[20.18,-0.000046],[20.30,0.000064],[20.45,-0.000056],[20.55,0.000064],[20.70,-0.000046],[20.80,0.000054],[20.90,-0.000136],[20.98,0.000054],[21.10,-0.000146],[21.25,0.000174],[21.35,-0.000056],[21.48,0.000104],[21.60,-0.000066],[21.72,0.000114],[21.85,-0.000076],[22.00,0.000084],[22.15,-0.000192],[22.30,0.000114],[22.40,-0.000176],[22.55,0.000034],[22.70,-0.000126],[22.80,-0.000016],[22.95,-0.000192],[23.10,0.000080],[23.22,0.000144],[23.35,0.000124],[23.52,0.000300],[23.65,0.000074],[23.72,0.000124],[23.85,-0.000036],[23.95,-0.000196],[24.05,-0.000116],[24.15,-0.000216],[24.30,0.000014],[24.45,0.000044],[24.60,0.000164],[24.72,0.000144],[24.85,0.000004],[25.00,0.000104],[25.10,-0.000036],[25.25,0.000104],[25.35,0.000044],[25.50,0.000104],[25.65,-0.000036],[25.80,-0.000106],[25.90,-0.000156],[26.02,-0.000016],[26.15,0.000024],[26.25,-0.000046],[26.40,0.000034],[26.50,-0.000076],[26.65,-0.000006],[26.82,-0.000076],[26.98,0.000128],[27.10,-0.000046],[27.22,0.000074],[27.35,-0.000126],[27.45,-0.000146],[27.55,0.000134],[27.65,-0.000146],[27.75,0.000140],[27.85,0.000084],[28.00,0.000088],[28.10,-0.000056],[28.22,-0.000076],[28.35,0.000044],[28.45,-0.000056],[28.55,-0.000026],[28.68,-0.000076],[28.78,-0.000032],[28.90,0.000024],[29.00,0.000124],[29.10,0.000164],[29.22,0.000054],[29.32,0.000164],[29.42,0.000004],[29.55,0.000004],[29.68,-0.000026],[29.78,-0.000136],[29.90,-0.000006],[30.00,0.000014],[30.10,-0.000056],[30.22,0.000044],[30.35,-0.000006],[30.48,0.000064],[30.60,-0.000056],[30.72,-0.000056],[30.85,-0.000176],[30.95,-0.000056],[31.05,0.000004],[31.15,0.000024],[31.25,0.000084],[31.35,0.000004],[31.48,0.000134],[31.60,0.000024],[31.72,0.000064],[31.85,0.000004],[31.98,0.000084],[32.10,-0.000026],[32.22,-0.000016],[32.35,-0.000026],[32.48,-0.000046],[32.60,-0.000106],[32.72,0.000024],[32.85,0.000044],[32.98,-0.000016],[33.05,0.000144],[33.15,-0.000106],[33.28,-0.000056],[33.40,0.000004],[33.50,-0.000056],[33.60,0.000034],[33.75,-0.000016],[33.85,0.000074],[33.95,-0.000036],[34.05,0.000044],[34.15,0.000004],[34.25,0.000044],[34.35,0.000124],[34.45,0.000044],[34.55,0.000034],[34.65,0.000044],[34.75,0.000054],[34.85,0.000044],[34.98,0.000084],[35.10,0.000114],[35.20,0.000164],[35.30,0.000194],[35.35,0.000228],[35.42,0.000194],[35.50,0.000188],[35.60,0.000104],[35.68,0.000044],[35.75,0.000084],[35.85,0.000034],[35.92,0.000034],[36.02,0.000094],[36.12,0.000034],[36.22,0.000044],[36.30,0.000004],[36.38,-0.000046],[36.48,-0.000056],[36.60,-0.000016],[36.70,-0.000056],[36.80,-0.000076],[36.92,0.000028],[37.02,-0.000036],[37.12,-0.000076],[37.22,-0.000076],[37.35,-0.000146],[37.42,-0.000086],[37.52,-0.000146],[37.62,-0.000196],[37.70,-0.000066],[37.80,-0.000156],[37.88,-0.000226],[37.98,-0.000116],[38.05,-0.000106],[38.15,-0.000186],[38.25,-0.000076],[38.35,-0.000076],[38.42,-0.000046],[38.52,-0.000116],[38.65,-0.000136],[38.75,-0.000086],[38.88,-0.000176],[38.98,-0.000076],[39.08,-0.000026],[39.15,-0.000036],[39.25,-0.000126],[39.35,0.000034],[39.45,-0.000056],[39.55,-0.000116],[39.65,-0.000036],[39.75,-0.000146],[39.85,0.000034],[39.92,-0.000036],[40.02,-0.000056],[40.12,0.000160],[40.22,0.000084],[40.32,0.000208],[40.42,0.000124],[40.50,0.000074],[40.60,0.000194],[40.70,0.000114],[40.80,0.000204],[40.90,0.000240],[40.98,0.000124],[41.08,0.000334],[41.18,0.000114],[41.25,0.000184],[41.32,0.000134],[41.40,0.000034],[41.48,0.000004],[41.55,0.000064],[41.65,-0.000016],[41.75,0.000044],[41.85,0.000104],[41.95,-0.000016],[42.05,0.000054],[42.12,0.000144],[42.22,0.000054],[42.30,-0.000016],[42.40,0.000144],[42.50,0.000054],[42.60,0.000094],[42.70,-0.000016],[42.80,-0.000076],[42.90,0.000044],[43.00,-0.000016],[43.10,-0.000036],[43.20,-0.000056],[43.30,-0.000016],[43.40,-0.000036],[43.50,-0.000026],[43.60,-0.000046],[43.70,-0.000016],[43.80,-0.000056],[43.90,-0.000016],[44.00,-0.000046],[44.10,-0.000016],[44.20,-0.000056],[44.30,-0.000016],[44.40,-0.000026],[44.50,0.000024],[44.60,-0.000026],[44.70,-0.000076],[44.80,0.000034],[44.90,-0.000096],[45.00,-0.000046],[45.10,0.000044],[45.20,-0.000016],[45.30,-0.000056],[45.40,0.000054],[45.50,-0.000016],[45.60,0.000084],[45.70,0.000004],[45.80,0.000024],[45.90,-0.000016],[46.00,0.000044],[46.10,0.000064],[46.20,-0.000026],[46.30,-0.000076],[46.40,-0.000136],[46.50,-0.000076],[46.60,-0.000136],[46.70,-0.000056],[46.80,-0.000036],[46.90,0.000004],[47.00,-0.000056],[47.10,0.000024],[47.20,-0.000016],[47.30,0.000004],[47.40,-0.000076],[47.50,-0.000096],[47.60,0.000080],[47.70,0.000084],[47.80,0.000054],[47.90,-0.000016],[48.00,0.000034],[48.10,-0.000076],[48.20,-0.000096],[48.30,-0.000016],[48.40,-0.000036],[48.50,0.000054],[48.60,0.000004],[48.70,0.000088],[48.80,0.000034],[48.90,0.000084],[49.00,0.000054],[49.10,0.000074],[49.20,0.000064],[49.30,0.000024],[49.40,0.000114],[49.50,0.000140],[49.60,0.000104],[49.70,0.000044],[49.80,-0.000036],[49.90,-0.000026],[50.00,0.000004],[50.10,0.000074],[50.20,0.000044],[50.30,0.000064],[50.40,0.000004],[50.50,0.000034],[50.60,-0.000016],[50.70,0.000034],[50.80,-0.000056],[50.90,-0.000076],[51.00,-0.000112],[51.10,-0.000016],[51.20,-0.000056],[51.30,-0.000016],[51.40,-0.000076],[51.50,-0.000036],[51.60,-0.000026],[51.70,-0.000076],[51.80,0.000034],[51.90,-0.000016],[52.00,0.000034],[52.10,0.000004],[52.20,0.000044],[52.30,0.000014],[52.40,0.000044],[52.50,-0.000016],[52.60,-0.000006],[52.70,-0.000036],[52.80,-0.000056],[52.90,-0.000016],[53.00,0.000034],[53.10,0.000074],[53.20,0.000048],[53.30,0.000064],[53.40,0.000034],[53.50,0.000054],[53.60,0.000044],[53.70,0.000054],[53.80,0.000034],[53.90,0.000064],[54.00,0.000084],[54.10,0.000034],[54.20,-0.000036],[54.30,-0.000056],[54.40,-0.000026],[54.50,-0.000096],[54.60,-0.000056],[54.70,0.000014],[54.80,0.000074],[54.90,0.000108],[55.00,0.000044],[55.10,0.000048],[55.20,0.000004],[55.30,-0.000036],[55.40,-0.000016],[55.50,-0.000056],[55.60,-0.000016],[55.70,-0.000026],[55.80,-0.000006],[55.90,-0.000036],[56.00,-0.000056],[56.10,-0.000136],[56.20,-0.000056],[56.30,-0.000016],[56.40,0.000004],[56.50,-0.000056],[56.60,-0.000096],[56.70,-0.000016],[56.80,-0.000086],[56.90,0.000044],[56.95,0.000044]
];

// ---- chart ----
const FONT = 'DejaVu Sans';
const panels = [
  {name: 'Acceleration (cm/s/s)', data: accData, color: '#000000', lim: 0.369, ticks: accTicks, dec: 1, top: 82, gap: 143},
  {name: 'Velocity (cm/s)', data: velData, color: '#0000ff', lim: 0.01598, ticks: velTicks, dec: 2, top: 857, gap: 172},
  {name: 'Displacement (cm)', data: dispData, color: '#ff0000', lim: 0.001462, ticks: dispTicks, dec: 4, top: 1631, gap: 223}
];
function fmt(d) {
  return function (v) {
    const s = Math.abs(v) < 1e-12 ? (0).toFixed(d) : v.toFixed(d);
    return s.replace('-', '\u2212');
  };
}
const lineW = 3.3;
const option = {
  animation: false,
  backgroundColor: '#ffffff',
  textStyle: {fontFamily: FONT},
  grid: panels.map(p => ({left: 327, right: 47, top: p.top, height: 580, show: true, borderColor: '#000', borderWidth: lineW, backgroundColor: 'transparent', containLabel: false})),
  xAxis: panels.map((p, i) => ({
    type: 'value', gridIndex: i, min: 0, max: 56.95,
    name: 'Time (s)', nameLocation: 'middle', nameGap: 89,
    nameTextStyle: {fontFamily: FONT, fontSize: 58, color: '#000'},
    axisLine: {onZero: false, lineStyle: {color: '#000', width: lineW}},
    axisTick: {show: true, inside: false, length: 14.6, lineStyle: {color: '#000', width: lineW}, customValues: timeTicks},
    axisLabel: {fontFamily: FONT, fontSize: 41.7, color: '#000', margin: 29, customValues: timeTicks, formatter: v => String(v)},
    splitLine: {show: true, lineStyle: {color: '#b0b0b0', width: lineW}}
  })),
  yAxis: panels.map((p, i) => ({
    type: 'value', gridIndex: i, min: -p.lim, max: p.lim,
    name: p.name, nameLocation: 'middle', nameRotate: 90, nameGap: p.gap,
    nameTextStyle: {fontFamily: FONT, fontSize: 58, color: '#000'},
    axisLine: {onZero: false, lineStyle: {color: '#000', width: lineW}},
    axisTick: {show: true, inside: false, length: 14.6, lineStyle: {color: '#000', width: lineW}, customValues: p.ticks},
    axisLabel: {fontFamily: FONT, fontSize: 41.7, color: '#000', margin: 31, customValues: p.ticks, formatter: fmt(p.dec)},
    splitLine: {show: true, lineStyle: {color: '#b0b0b0', width: lineW}}
  })),
  series: panels.map((p, i) => ({
    type: 'line', xAxisIndex: i, yAxisIndex: i, data: p.data,
    showSymbol: false, symbol: 'none', silent: true, clip: true,
    lineStyle: {color: p.color, width: 7, join: 'round', cap: 'round'}
  }))
};
const chart = echarts.init(document.getElementById('c'), null, {renderer: 'canvas', width: 3600, height: 2400});
chart.setOption(option);
</script>
</body></html>
